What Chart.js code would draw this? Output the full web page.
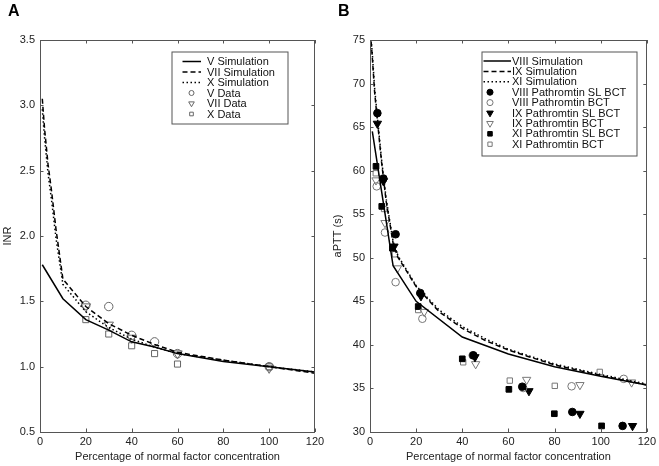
<!DOCTYPE html>
<html>
<head>
<meta charset="utf-8">
<script src="https://cdn.jsdelivr.net/npm/chart.js@4/dist/chart.umd.min.js"></script>
<style>
  html, body { margin: 0; padding: 0; background: #fff; }
  body { width: 659px; height: 466px; position: relative; overflow: hidden; font-family: "Liberation Sans", Arial, sans-serif; }
  .panel { position: absolute; top: 0; height: 466px; }
  #wa { left: 0; width: 330px; }
  #wb { left: 330px; width: 329px; }
  .lbl { position: absolute; top: 2px; font: bold 16px "Liberation Sans", Arial, sans-serif; color: #000; }
</style>
</head>
<body>
<div class="panel" id="wa"><canvas id="ca" width="330" height="466"></canvas></div>
<div class="panel" id="wb"><canvas id="cb" width="329" height="466"></canvas></div>
<div class="lbl" style="left:8px">A</div>
<div class="lbl" style="left:338px">B</div>
<script>
// ---------- Panel A data (INR) ----------
const aXTicks = [0, 20, 40, 60, 80, 100, 120];
const aYTicks = [0.5, 1.0, 1.5, 2.0, 2.5, 3.0, 3.5];
const vSimX   = [1, 10, 20, 30, 40, 50, 60, 80, 100, 120];
const vSimY   = [1.78, 1.52, 1.36, 1.28, 1.19, 1.15, 1.10, 1.04, 1.00, 0.96];
const viiSimX = [1, 2, 3.5, 5, 7, 10, 20, 30, 40, 50, 60, 80, 100, 120];
const viiSimY = [3.05, 2.82, 2.55, 2.35, 2.05, 1.67, 1.46, 1.33, 1.24, 1.17, 1.11, 1.05, 1.00, 0.95];
const xSimX   = [1, 2, 3.5, 5, 7, 10, 20, 30, 40, 50, 60, 80, 100, 120];
const xSimY   = [2.97, 2.75, 2.48, 2.28, 1.98, 1.63, 1.42, 1.30, 1.21, 1.15, 1.10, 1.05, 1.00, 0.96];
const vDataX  = [20, 30, 40, 50, 60, 100];
const vDataY  = [1.47, 1.46, 1.24, 1.19, 1.10, 1.00];
const viiDataX = [20, 30, 40, 60, 100];
const viiDataY = [1.46, 1.32, 1.22, 1.10, 0.99];
const xDataX  = [20, 30, 40, 50, 60, 100];
const xDataY  = [1.36, 1.25, 1.16, 1.10, 1.02, 1.00];
const aLabels = ["V Simulation", "VII Simulation", "X Simulation", "V Data", "VII Data", "X Data"];

// ---------- Panel B data (aPTT) ----------
const bXTicks = [0, 20, 40, 60, 80, 100, 120];
const bYTicks = [30, 35, 40, 45, 50, 55, 60, 65, 70, 75];
const viiiSimX = [1, 10, 20, 40, 60, 80, 100, 120];
const viiiSimY = [64.5, 49.1, 45.0, 40.9, 38.95, 37.5, 36.4, 35.4];
const ixSimX = [0.5, 1, 2, 3, 5, 7, 10, 12, 20, 30, 40, 50, 60, 80, 100, 120];
const ixSimY = [74.8, 73.0, 69.0, 66.3, 61.0, 56.5, 51.7, 50.1, 46.7, 43.8, 41.9, 40.5, 39.4, 37.7, 36.5, 35.4];
const xiSimX = [0.5, 1, 2, 3, 5, 7, 10, 12, 20, 30, 40, 50, 60, 80, 100, 120];
const xiSimY = [75.0, 73.5, 69.5, 66.7, 61.3, 56.8, 51.9, 50.3, 46.8, 44.0, 42.1, 40.7, 39.5, 37.8, 36.6, 35.5];
const viiiSlX = [3.2, 5.8, 11.1, 21.8, 44.8, 66.0, 87.7, 109.5];
const viiiSlY = [66.6, 59.1, 52.7, 45.95, 38.8, 35.2, 32.3, 30.7];
const viiiBX  = [2.9, 6.5, 11.1, 22.7, 44.5, 66.4, 87.4, 110.0];
const viiiBY  = [58.2, 52.9, 47.2, 43.0, 38.8, 35.05, 35.25, 36.1];
const ixSlX   = [3.2, 5.8, 10.4, 22.1, 45.5, 68.9, 91.0, 113.8];
const ixSlY   = [65.4, 58.8, 51.3, 45.6, 38.6, 34.7, 32.1, 30.7];
const ixBX    = [2.6, 6.5, 11.9, 23.5, 45.8, 67.9, 91.0, 113.4];
const ixBY    = [58.9, 54.0, 48.8, 43.8, 37.8, 36.0, 35.4, 35.7];
const xiSlX   = [2.6, 5.1, 9.7, 20.9, 40.0, 60.2, 79.9, 100.4];
const xiSlY   = [60.5, 55.9, 51.1, 44.4, 38.4, 34.9, 32.1, 30.7];
const xiBX    = [2.5, 6.1, 10.8, 20.9, 40.4, 60.6, 80.1, 99.6];
const xiBY    = [59.7, 55.6, 50.4, 44.0, 38.0, 35.9, 35.3, 36.9];
const bLabels = ["VIII Simulation", "IX Simulation", "XI Simulation",
  "VIII Pathromtin SL BCT", "VIII Pathromtin BCT", "IX Pathromtin SL BCT",
  "IX Pathromtin BCT", "XI Pathromtin SL BCT", "XI Pathromtin BCT"];

const FONT = "'Liberation Sans', Arial, sans-serif";
const pts = (xs, ys) => xs.map((x, i) => ({ x: x, y: ys[i] }));

function lineDs(label, xs, ys, dash) {
  return { label, data: pts(xs, ys), showLine: true, borderColor: '#000', borderWidth: 1.5,
    borderDash: dash, pointRadius: 0, pointHoverRadius: 0, fill: false, tension: 0 };
}
function ptDs(label, xs, ys, style, filled, color, r, rot) {
  return { label, data: pts(xs, ys), showLine: false, pointStyle: style, pointRadius: r,
    pointRotation: rot || 0, pointBorderWidth: 1, pointBorderColor: color,
    pointBackgroundColor: filled ? color : 'rgba(0,0,0,0)', borderColor: color, backgroundColor: filled ? color : 'rgba(0,0,0,0)' };
}

// custom marker drawer for legend
function drawMarker(ctx, style, x, y, r, rot, stroke, fill) {
  ctx.save();
  ctx.beginPath();
  if (style === 'circle') {
    ctx.arc(x, y, r, 0, Math.PI * 2);
  } else if (style === 'rect') {
    const s = Math.SQRT1_2 * r;
    ctx.rect(x - s, y - s, 2 * s, 2 * s);
  } else if (style === 'triangle') {
    const a = (rot || 0) * Math.PI / 180;
    for (let k = 0; k < 3; k++) {
      const t = a - Math.PI / 2 + k * 2 * Math.PI / 3;
      const px = x + r * Math.cos(t), py = y + r * Math.sin(t);
      if (k === 0) ctx.moveTo(px, py); else ctx.lineTo(px, py);
    }
    ctx.closePath();
  }
  if (fill) { ctx.fillStyle = fill; ctx.fill(); }
  ctx.lineWidth = 1; ctx.strokeStyle = stroke; ctx.stroke();
  ctx.restore();
}

const framePlugin = {
  id: 'frame',
  afterDatasetsDraw(chart) {
    const { ctx, chartArea: a, scales } = chart;
    ctx.save();
    ctx.strokeStyle = '#555'; ctx.lineWidth = 1;
    ctx.strokeRect(Math.round(a.left) + 0.5, Math.round(a.top) + 0.5, Math.round(a.right - a.left) - 1, Math.round(a.bottom - a.top));
    const L = 3.5;
    ctx.beginPath();
    scales.x.ticks.forEach(t => {
      const px = Math.round(scales.x.getPixelForValue(t.value)) + 0.5;
      ctx.moveTo(px, a.bottom); ctx.lineTo(px, a.bottom - L);
      ctx.moveTo(px, a.top); ctx.lineTo(px, a.top + L);
    });
    scales.y.ticks.forEach(t => {
      const py = Math.round(scales.y.getPixelForValue(t.value)) + 0.5;
      ctx.moveTo(a.left, py); ctx.lineTo(a.left + L, py);
      ctx.moveTo(a.right, py); ctx.lineTo(a.right - L, py);
    });
    ctx.stroke();
    ctx.restore();
  }
};

const legendPlugin = {
  id: 'boxLegend',
  afterDraw(chart, args, o) {
    const ctx = chart.ctx;
    ctx.save();
    ctx.fillStyle = '#fff';
    ctx.fillRect(o.x, o.y, o.w, o.h);
    ctx.strokeStyle = '#555'; ctx.lineWidth = 1;
    ctx.strokeRect(o.x + 0.5, o.y + 0.5, o.w, o.h);
    ctx.font = '11px ' + FONT;
    ctx.textBaseline = 'middle';
    chart.data.datasets.forEach((ds, i) => {
      const y = o.y0 + i * o.dy;
      if (ds.showLine) {
        ctx.save();
        ctx.strokeStyle = '#000'; ctx.lineWidth = 1.5;
        ctx.setLineDash(ds.borderDash || []);
        ctx.beginPath(); ctx.moveTo(o.lx0, y); ctx.lineTo(o.lx1, y); ctx.stroke();
        ctx.restore();
      } else {
        drawMarker(ctx, ds.pointStyle, o.mx, y, ds.pointRadius * o.ms, ds.pointRotation,
          ds.pointBorderColor, ds.pointBackgroundColor === 'rgba(0,0,0,0)' ? null : ds.pointBackgroundColor);
      }
      ctx.fillStyle = '#111';
      ctx.textAlign = 'left';
      ctx.fillText(ds.label, o.tx, y + 0.5);
    });
    ctx.restore();
  }
};

function makeOptions(xTicks, yTicks, yTitle, yFmt, padRight, legendOpts) {
  return {
    responsive: false, animation: false, events: [],
    layout: { padding: { left: 0, top: 40, right: padRight, bottom: 0 } },
    plugins: { legend: { display: false }, tooltip: { enabled: false }, boxLegend: legendOpts },
    scales: {
      x: {
        type: 'linear', min: xTicks[0], max: xTicks[xTicks.length - 1],
        afterBuildTicks: s => { s.ticks = xTicks.map(v => ({ value: v })); },
        afterFit: s => { s.height = 34; },
        grid: { display: false, drawTicks: false }, border: { display: false },
        ticks: { padding: 3, color: '#222', font: { size: 11, family: FONT }, maxRotation: 0, autoSkip: false,
          callback: v => String(v) },
        title: { display: true, text: 'Percentage of normal factor concentration', color: '#222',
          font: { size: 11, family: FONT }, padding: { top: 0, bottom: 2 } }
      },
      y: {
        type: 'linear', min: yTicks[0], max: yTicks[yTicks.length - 1],
        afterBuildTicks: s => { s.ticks = yTicks.map(v => ({ value: v })); },
        afterFit: s => { s.width = 40; },
        grid: { display: false, drawTicks: false }, border: { display: false },
        ticks: { padding: 5, color: '#222', font: { size: 11, family: FONT }, autoSkip: false,
          callback: yFmt },
        title: { display: true, text: yTitle, color: '#222', font: { size: 11, family: FONT }, padding: { top: 1, bottom: 0 } }
      }
    }
  };
}

const grayA = '#666';
new Chart(document.getElementById('ca'), {
  type: 'scatter',
  data: { datasets: [
    lineDs(aLabels[0], vSimX, vSimY, []),
    lineDs(aLabels[1], viiSimX, viiSimY, [5, 3]),
    lineDs(aLabels[2], xSimX, xSimY, [1.5, 2.5]),
    ptDs(aLabels[3], vDataX, vDataY, 'circle', false, grayA, 4.2),
    ptDs(aLabels[4], viiDataX, viiDataY, 'triangle', false, grayA, 5.4, 180),
    ptDs(aLabels[5], xDataX, xDataY, 'rect', false, grayA, 4.3)
  ] },
  options: makeOptions(aXTicks, aYTicks, 'INR', v => Number(v).toFixed(1), 15,
    { x: 171.5, y: 51.5, w: 116, h: 72, y0: 61.5, dy: 10.5, lx0: 182.5, lx1: 201, mx: 191.5, tx: 207, ms: 0.6 }),
  plugins: [framePlugin, legendPlugin]
});

const grayB = '#777';
new Chart(document.getElementById('cb'), {
  type: 'scatter',
  data: { datasets: [
    lineDs(bLabels[0], viiiSimX, viiiSimY, []),
    lineDs(bLabels[1], ixSimX, ixSimY, [5, 3]),
    lineDs(bLabels[2], xiSimX, xiSimY, [1.5, 2.5]),
    ptDs(bLabels[3], viiiSlX, viiiSlY, 'circle', true, '#000', 3.8),
    ptDs(bLabels[4], viiiBX, viiiBY, 'circle', false, grayB, 3.8),
    ptDs(bLabels[5], ixSlX, ixSlY, 'triangle', true, '#000', 4.8, 180),
    ptDs(bLabels[6], ixBX, ixBY, 'triangle', false, grayB, 4.8, 180),
    ptDs(bLabels[7], xiSlX, xiSlY, 'rect', true, '#000', 4),
    ptDs(bLabels[8], xiBX, xiBY, 'rect', false, grayB, 3.8)
  ] },
  options: makeOptions(bXTicks, bYTicks, 'aPTT (s)', v => String(v), 12,
    { x: 151.5, y: 51.5, w: 155, h: 104, y0: 61, dy: 10.4, lx0: 153.5, lx1: 181, mx: 160, tx: 182, ms: 0.8 }),
  plugins: [framePlugin, legendPlugin]
});
</script>
</body>
</html>
